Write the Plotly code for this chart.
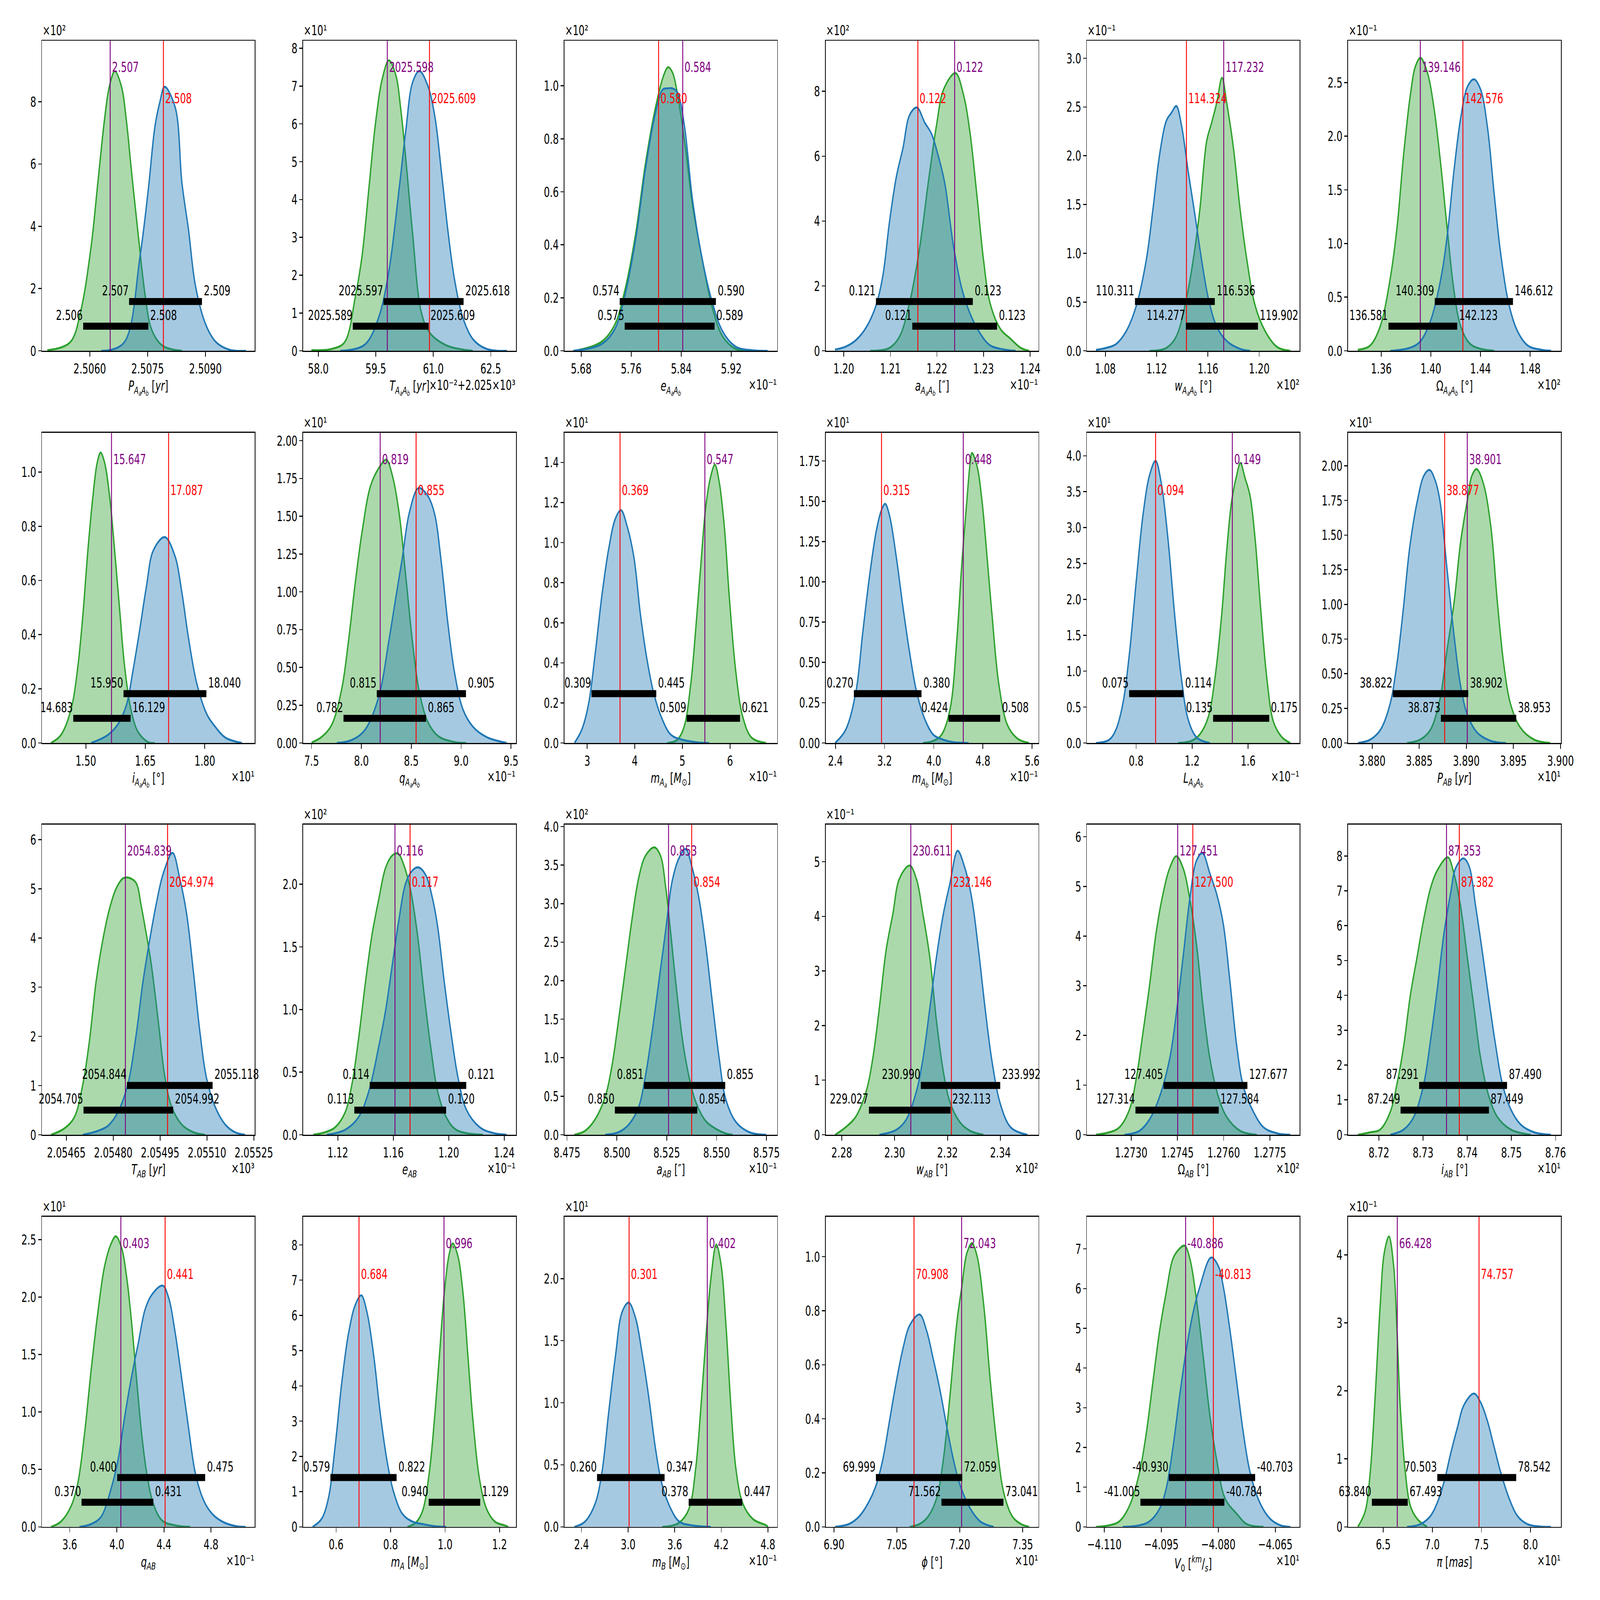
import plotly.graph_objects as go

FONT = "DejaVu Sans"
BLUE = "#1f77b4"
GREEN = "#2ca02c"
BLUE_FILL = "rgba(31,119,180,0.4)"
GREEN_FILL = "rgba(44,160,44,0.4)"
FIG_W, FIG_H = 7200, 4800

# ---- panel text -------------------------------------------------------
AAB = "<sub><i>A<sub>a</sub>A<sub>b</sub></i></sub>"
SUN = "[<i>M</i><sub>⊙</sub>]"
x_labels = [
    "<i>P</i>" + AAB + " [<i>yr</i>]", "<i>T</i>" + AAB + " [<i>yr</i>]",
    "<i>e</i>" + AAB, "<i>a</i>" + AAB + " [″]",
    "<i>w</i>" + AAB + " [°]", "Ω" + AAB + " [°]",
    "<i>i</i>" + AAB + " [°]", "<i>q</i>" + AAB,
    "<i>m</i><sub><i>A<sub>a</sub></i></sub> " + SUN,
    "<i>m</i><sub><i>A<sub>b</sub></i></sub> " + SUN,
    "<i>L</i>" + AAB, "<i>P</i><sub><i>AB</i></sub> [<i>yr</i>]",
    "<i>T</i><sub><i>AB</i></sub> [<i>yr</i>]", "<i>e</i><sub><i>AB</i></sub>",
    "<i>a</i><sub><i>AB</i></sub> [″]", "<i>w</i><sub><i>AB</i></sub> [°]",
    "Ω<sub><i>AB</i></sub> [°]", "<i>i</i><sub><i>AB</i></sub> [°]",
    "<i>q</i><sub><i>AB</i></sub>", "<i>m</i><sub><i>A</i></sub> " + SUN,
    "<i>m</i><sub><i>B</i></sub> " + SUN, "<i>ϕ</i> [°]",
    "<i>V</i><sub>0</sub> [<sup><i>km</i></sup>/<sub><i>s</i></sub>]",
    "<i>π</i> [<i>mas</i>]",
]

# axis multipliers: value = tick * 10**x_exp + x_offset
x_exp = [None, -2, -1, -1, 2, 2, 1, -1, -1, -1, -1, 1,
         3, -1, -1, 2, 2, 1, -1, None, -1, 1, 1, 1]
x_offset = [0, 2025, 0, 0, 0, 0, 0, 0, 0, 0, 0, 0,
            0, 0, 0, 0, 0, 0, 0, 0, 0, 0, 0, 0]
y_exp = [2, 1, 2, 2, -1, -1, None, 1, 1, 1, 1, 1,
         None, 2, 2, -1, None, None, 1, None, 1, None, None, -1]

# ---- ticks / ranges (tick units) --------------------------------------
x_range = [
    [2.50476, 2.51028], [57.605, 63.158], [5.6532, 5.9935], [1.1961, 1.2418],
    [1.0656, 1.2316], [1.3333, 1.5048], [1.3893, 1.926], [7.4157, 9.550],
    [2.521, 6.993], [2.241, 5.704], [0.4479, 1.969], [3.87745, 3.90005],
    [2.054572, 2.055253], [1.0950, 1.2485], [8.4737, 8.5804], [2.2739, 2.3544],
    [1.271565, 1.278467], [8.71303, 8.76121], [3.3637, 5.1715], [0.479, 1.2605],
    [2.1799, 4.9208], [6.880, 7.3877], [-4.11459, -4.05856], [6.142, 8.3104],
]
x_tick0 = [2.5060, 58.0, 5.68, 1.20, 1.08, 1.36, 1.50, 7.5, 3, 2.4, 0.8, 3.880,
           2.05465, 1.12, 8.475, 2.28, 1.2730, 8.72, 3.6, 0.6, 2.4, 6.90, -4.110, 6.5]
x_dtick = [0.0015, 1.5, 0.08, 0.01, 0.04, 0.04, 0.15, 0.5, 1, 0.8, 0.4, 0.005,
           0.00015, 0.04, 0.025, 0.02, 0.0015, 0.01, 0.4, 0.2, 0.6, 0.15, 0.015, 0.5]
x_fmt = [".4f", ".1f", ".2f", ".2f", ".2f", ".2f", ".2f", ".1f", ".0f", ".1f", ".1f", ".3f",
         ".5f", ".2f", ".3f", ".2f", ".4f", ".2f", ".1f", ".1f", ".1f", ".2f", ".3f", ".1f"]
y_top = [9.96, 8.2, 1.17, 9.56, 3.18, 2.89, 1.145, 2.052, 1.548, 1.925, 4.32, 2.238,
         6.305, 2.476, 4.026, 5.68, 6.245, 8.90, 2.70, 8.80, 2.499, 1.148, 7.81, 4.56]
y_dtick = [2, 1, 0.2, 2, 0.5, 0.5, 0.2, 0.25, 0.2, 0.25, 0.5, 0.25,
           1, 0.5, 0.5, 1, 1, 1, 0.5, 1, 0.5, 0.2, 1, 1]
y_fmt = [".0f", ".0f", ".1f", ".0f", ".1f", ".1f", ".1f", ".2f", ".1f", ".2f", ".1f", ".2f",
         ".0f", ".1f", ".1f", ".0f", ".0f", ".0f", ".1f", ".0f", ".1f", ".1f", ".0f", ".0f"]

# ---- summary values (real units) --------------------------------------
red_value = [2.50791, 2025.6090, 0.58038, 0.12159, 114.324, 142.576, 17.087, 0.8548,
             0.3690, 0.3150, 0.09389, 38.877, 2054.974, 0.11721, 0.85375, 232.146,
             127.500, 87.382, 0.4410, 0.6840, 0.3013, 70.908, -40.813, 74.757]
purple_value = [2.50653, 2025.5980, 0.58424, 0.12238, 117.232, 139.146, 15.647, 0.8188,
                0.5472, 0.4480, 0.14874, 38.901, 2054.839, 0.11612, 0.85259, 230.611,
                127.451, 87.353, 0.4034, 0.9960, 0.4020, 72.043, -40.886, 66.428]
blue_lo = [2.50702, 2025.5970, 0.57416, 0.12069, 110.311, 140.309, 15.950, 0.8154,
           0.3090, 0.2700, 0.07500, 38.822, 2054.844, 0.11430, 0.85136, 230.990,
           127.405, 87.291, 0.4003, 0.5790, 0.2600, 69.999, -40.930, 70.503]
blue_hi = [2.50891, 2025.6179, 0.58954, 0.12277, 116.536, 146.612, 18.040, 0.9048,
           0.4451, 0.3800, 0.11377, 38.902, 2055.118, 0.12126, 0.85543, 233.992,
           127.677, 87.490, 0.4750, 0.8220, 0.3470, 72.059, -40.703, 78.542]
green_lo = [2.50583, 2025.5890, 0.57496, 0.12147, 114.277, 136.581, 14.683, 0.7820,
            0.5090, 0.4240, 0.13500, 38.873, 2054.705, 0.11319, 0.84990, 229.027,
            127.314, 87.249, 0.3700, 0.9400, 0.3780, 71.562, -41.005, 63.840]
green_hi = [2.50752, 2025.6088, 0.58933, 0.12329, 119.902, 142.123, 16.129, 0.8648,
            0.6210, 0.5080, 0.17509, 38.953, 2054.992, 0.11981, 0.85403, 232.113,
            127.584, 87.449, 0.4310, 1.1290, 0.4470, 73.041, -40.784, 67.493]

# ---- density curves (tick units of each panel) -------------------------
blue_x = [
    [2.50630, 2.50691, 2.50730, 2.50752, 2.50769, 2.50782, 2.50794, 2.50822, 2.50839, 2.50856, 2.50874, 2.50900, 2.50926, 2.50961, 2.51005],
    [58.57, 59.23, 59.58, 59.84, 60.11, 60.28, 60.46, 60.64, 60.86, 61.04, 61.21, 61.39, 61.56, 61.78, 62.04, 62.39, 62.92],
    [5.667, 5.713, 5.734, 5.750, 5.767, 5.783, 5.799, 5.810, 5.818, 5.826, 5.834, 5.845, 5.858, 5.874, 5.890, 5.906, 5.927, 5.954, 5.978],
    [1.1981, 1.2004, 1.2026, 1.2048, 1.2069, 1.2084, 1.2098, 1.2113, 1.2127, 1.2141, 1.2157, 1.2174, 1.2188, 1.2203, 1.2217, 1.2235, 1.2253, 1.2271, 1.2293, 1.2314, 1.2344, 1.2369],
    [1.0727, 1.0805, 1.0884, 1.0962, 1.1041, 1.1119, 1.1171, 1.1224, 1.1276, 1.1315, 1.1354, 1.1394, 1.1446, 1.1498, 1.1551, 1.1603, 1.1668, 1.1747, 1.1851, 1.1929],
    [1.3673, 1.3835, 1.3916, 1.3997, 1.4078, 1.4132, 1.4186, 1.4240, 1.4294, 1.4348, 1.4402, 1.4456, 1.4510, 1.4564, 1.4631, 1.4699, 1.4780, 1.4888, 1.4969],
    [1.5135, 1.5558, 1.5812, 1.6023, 1.6192, 1.6361, 1.6530, 1.6699, 1.6994, 1.7248, 1.7417, 1.7586, 1.7797, 1.8051, 1.8262, 1.8516, 1.8939],
    [7.753, 7.904, 8.039, 8.175, 8.276, 8.344, 8.411, 8.479, 8.570, 8.665, 8.732, 8.800, 8.867, 8.935, 9.019, 9.120, 9.255, 9.457],
    [2.732, 2.887, 3.028, 3.169, 3.310, 3.451, 3.592, 3.711, 3.838, 3.979, 4.120, 4.261, 4.401, 4.577, 4.754, 5.0, 5.28, 5.56],
    [2.395, 2.570, 2.734, 2.843, 2.953, 3.062, 3.144, 3.210, 3.281, 3.390, 3.500, 3.609, 3.719, 3.855, 3.992, 4.156, 4.320, 4.566],
    [0.5126, 0.6084, 0.6563, 0.7042, 0.7521, 0.8000, 0.8479, 0.8958, 0.9389, 0.9796, 1.0275, 1.0754, 1.1234, 1.1713, 1.2311, 1.327],
    [3.8785, 3.8798, 3.8809, 3.8819, 3.8826, 3.8833, 3.8840, 3.8848, 3.8855, 3.8861, 3.8867, 3.8872, 3.8879, 3.8887, 3.8894, 3.8901, 3.8911, 3.8926, 3.8942],
    [2.054703, 2.054751, 2.054783, 2.054815, 2.054847, 2.054874, 2.054895, 2.054917, 2.054938, 2.054960, 2.054990, 2.055013, 2.055035, 2.055056, 2.055078, 2.055099, 2.055126, 2.055158, 2.055190, 2.055222],
    [1.1120, 1.1253, 1.1350, 1.1423, 1.1496, 1.1544, 1.1593, 1.1641, 1.1690, 1.1738, 1.1782, 1.1835, 1.1883, 1.1920, 1.1968, 1.2017, 1.2065, 1.2126, 1.2223, 1.2320, 1.2417],
    [8.4941, 8.5008, 8.5059, 8.5109, 8.5143, 8.5176, 8.5210, 8.5244, 8.5277, 8.5311, 8.5345, 8.5378, 8.5412, 8.5445, 8.5479, 8.5513, 8.5546, 8.5597, 8.5664, 8.5748],
    [2.2942, 2.3006, 2.3044, 2.3082, 2.3107, 2.3133, 2.3158, 2.3184, 2.3209, 2.3238, 2.3266, 2.3292, 2.3317, 2.3342, 2.3368, 2.3400, 2.3438, 2.3502],
    [1.272783, 1.273272, 1.273598, 1.273924, 1.274250, 1.274467, 1.274685, 1.274902, 1.275120, 1.275315, 1.275554, 1.275772, 1.275989, 1.276207, 1.276424, 1.276641, 1.276967, 1.277293, 1.277728, 1.278163],
    [8.72258, 8.72561, 8.72788, 8.73015, 8.73167, 8.73318, 8.73470, 8.73621, 8.73735, 8.73909, 8.74038, 8.74189, 8.74341, 8.74492, 8.74644, 8.74795, 8.74985, 8.75212, 8.75515, 8.75894],
    [3.6826, 3.7822, 3.8676, 3.9530, 4.0114, 4.0683, 4.1253, 4.1822, 4.2391, 4.2961, 4.3900, 4.4384, 4.4954, 4.5523, 4.6093, 4.6662, 4.7374, 4.8085, 4.8940, 5.0078, 5.0932],
    [0.5136, 0.5469, 0.5716, 0.5963, 0.6210, 0.6457, 0.6704, 0.6926, 0.7136, 0.7383, 0.7630, 0.7877, 0.8123, 0.8432, 0.8802, 0.9173, 0.9605, 1.0037],
    [2.3094, 2.4475, 2.5770, 2.6633, 2.7496, 2.8360, 2.9223, 3.0086, 3.0950, 3.1813, 3.2676, 3.3540, 3.4403, 3.5482, 3.6561, 3.8288, 4.0662],
    [6.9024, 6.9361, 6.9602, 6.9842, 7.0003, 7.0163, 7.0324, 7.0484, 7.0644, 7.0805, 7.1045, 7.1206, 7.1366, 7.1527, 7.1687, 7.1848, 7.2008, 7.2249, 7.2489, 7.2810],
    [-4.10515, -4.10074, -4.09809, -4.09544, -4.09368, -4.09191, -4.09015, -4.08838, -4.08662, -4.08485, -4.08194, -4.08000, -4.07868, -4.07691, -4.07515, -4.07338, -4.07162, -4.06897, -4.06632, -4.06368, -4.06103],
    [6.7421, 6.8784, 6.9807, 7.0489, 7.1171, 7.1853, 7.2535, 7.3217, 7.4240, 7.4922, 7.5604, 7.6286, 7.6968, 7.7820, 7.8673, 7.9696, 8.2083],
]
blue_y = [
    [0, 0.3, 3.0, 5.2, 7.2, 8.0, 8.48, 7.8, 5.4, 3.9, 2.1, 0.87, 0.3, 0.04, 0],
    [0, 0.18, 0.9, 2.1, 4.3, 5.8, 7.1, 7.4, 7.0, 6.2, 4.75, 3.1, 1.85, 0.85, 0.3, 0.05, 0],
    [0, 0.026, 0.083, 0.21, 0.42, 0.69, 0.90, 0.985, 0.99, 0.99, 0.975, 0.85, 0.57, 0.34, 0.18, 0.074, 0.016, 0.002, 0],
    [0.04, 0.13, 0.33, 0.72, 1.39, 2.33, 3.97, 5.38, 6.25, 7.26, 7.5, 7.03, 6.7, 6.0, 5.15, 3.27, 1.94, 1.15, 0.53, 0.17, 0.04, 0],
    [0.01, 0.03, 0.07, 0.2, 0.46, 0.93, 1.45, 2.02, 2.36, 2.44, 2.51, 2.31, 1.84, 1.40, 0.93, 0.54, 0.25, 0.10, 0.02, 0],
    [0, 0.03, 0.09, 0.28, 0.66, 1.08, 1.68, 2.17, 2.46, 2.53, 2.43, 2.08, 1.46, 0.89, 0.42, 0.18, 0.05, 0.01, 0],
    [0, 0.03, 0.07, 0.14, 0.27, 0.42, 0.58, 0.71, 0.76, 0.69, 0.56, 0.39, 0.22, 0.106, 0.06, 0.02, 0],
    [0, 0.02, 0.09, 0.31, 0.68, 0.96, 1.23, 1.52, 1.686, 1.635, 1.52, 1.20, 0.79, 0.46, 0.22, 0.106, 0.039, 0],
    [0, 0.067, 0.194, 0.448, 0.739, 0.968, 1.12, 1.162, 1.082, 0.93, 0.638, 0.41, 0.245, 0.118, 0.042, 0.016, 0.004, 0],
    [0, 0.084, 0.32, 0.68, 1.03, 1.31, 1.44, 1.484, 1.41, 1.155, 0.84, 0.557, 0.32, 0.147, 0.052, 0.02, 0.005, 0],
    [0, 0.046, 0.19, 0.54, 1.25, 2.24, 3.16, 3.73, 3.93, 3.62, 2.84, 1.78, 0.90, 0.33, 0.08, 0],
    [0, 0.024, 0.097, 0.28, 0.555, 0.96, 1.417, 1.747, 1.93, 1.97, 1.894, 1.747, 1.289, 0.775, 0.409, 0.207, 0.079, 0.015, 0],
    [0, 0.08, 0.18, 0.46, 1.03, 2.06, 3.10, 3.97, 4.70, 5.31, 5.73, 5.21, 4.49, 3.35, 2.06, 1.14, 0.57, 0.21, 0.05, 0],
    [0, 0.04, 0.142, 0.345, 0.71, 0.99, 1.36, 1.72, 2.01, 2.11, 2.134, 2.07, 1.885, 1.66, 1.216, 0.81, 0.466, 0.203, 0.06, 0.014, 0],
    [0, 0.033, 0.13, 0.36, 0.76, 1.32, 1.98, 2.64, 3.29, 3.59, 3.71, 3.46, 3.06, 2.47, 1.71, 0.99, 0.46, 0.165, 0.033, 0],
    [0, 0.09, 0.28, 0.79, 1.39, 2.32, 3.25, 4.04, 4.60, 5.20, 4.88, 4.32, 3.39, 2.32, 1.35, 0.56, 0.14, 0],
    [0, 0.08, 0.31, 0.77, 1.53, 2.45, 3.58, 4.75, 5.52, 5.67, 5.26, 4.85, 4.24, 3.07, 1.79, 0.97, 0.46, 0.15, 0.03, 0],
    [0, 0.15, 0.51, 1.46, 2.70, 4.15, 5.76, 6.92, 7.65, 7.93, 7.72, 6.56, 5.25, 3.86, 2.55, 1.46, 0.73, 0.29, 0.07, 0],
    [0, 0.025, 0.09, 0.34, 0.59, 0.97, 1.31, 1.60, 1.89, 2.02, 2.10, 2.00, 1.69, 1.28, 0.86, 0.47, 0.23, 0.115, 0.047, 0.007, 0],
    [0, 0.23, 0.81, 2.28, 4.11, 5.50, 6.30, 6.57, 6.08, 4.84, 3.16, 1.84, 0.96, 0.37, 0.15, 0.08, 0.02, 0],
    [0, 0.044, 0.19, 0.44, 0.92, 1.37, 1.73, 1.807, 1.686, 1.395, 1.04, 0.626, 0.335, 0.148, 0.044, 0.012, 0],
    [0, 0.011, 0.039, 0.096, 0.154, 0.249, 0.393, 0.536, 0.66, 0.746, 0.786, 0.727, 0.622, 0.507, 0.373, 0.249, 0.154, 0.068, 0.02, 0],
    [0, 0.04, 0.14, 0.46, 0.98, 2.02, 3.32, 4.49, 5.40, 6.05, 6.78, 6.57, 6.05, 4.94, 3.65, 2.35, 1.37, 0.59, 0.20, 0.04, 0],
    [0, 0.04, 0.16, 0.35, 0.65, 1.07, 1.45, 1.79, 1.96, 1.83, 1.56, 1.18, 0.80, 0.42, 0.16, 0.04, 0],
]
green_x = [
    [2.50490, 2.50551, 2.50577, 2.50603, 2.50621, 2.50638, 2.50651, 2.50665, 2.50682, 2.50695, 2.50708, 2.50726, 2.50743, 2.50760, 2.50787, 2.50839],
    [57.82, 58.35, 58.70, 58.96, 59.14, 59.32, 59.49, 59.67, 59.84, 60.02, 60.15, 60.28, 60.46, 60.68, 60.89, 61.33, 62.03],
    [5.669, 5.713, 5.734, 5.750, 5.767, 5.783, 5.799, 5.812, 5.819, 5.826, 5.836, 5.847, 5.858, 5.874, 5.890, 5.906, 5.927, 5.949],
    [1.2057, 1.2098, 1.2120, 1.2141, 1.2163, 1.2181, 1.2199, 1.2214, 1.2240, 1.2257, 1.2271, 1.2286, 1.2300, 1.2314, 1.2336, 1.2358, 1.2380, 1.2398],
    [1.1145, 1.1276, 1.1354, 1.1433, 1.1485, 1.1537, 1.1590, 1.1629, 1.1668, 1.1710, 1.1747, 1.1799, 1.1851, 1.1904, 1.1969, 1.2047, 1.2139, 1.2243],
    [1.3411, 1.3511, 1.3592, 1.3673, 1.3727, 1.3781, 1.3835, 1.3875, 1.3916, 1.3970, 1.4024, 1.4078, 1.4132, 1.4186, 1.4240, 1.4321, 1.4510],
    [1.4121, 1.4375, 1.4628, 1.4797, 1.4924, 1.5051, 1.5178, 1.5287, 1.5372, 1.5473, 1.5600, 1.5727, 1.5854, 1.5980, 1.6150, 1.6319, 1.6572, 1.674],
    [7.50, 7.601, 7.702, 7.803, 7.871, 7.938, 8.007, 8.091, 8.175, 8.250, 8.310, 8.378, 8.445, 8.513, 8.580, 8.665, 8.766, 8.918, 9.05],
    [4.683, 4.894, 5.035, 5.176, 5.282, 5.387, 5.493, 5.599, 5.683, 5.775, 5.880, 5.986, 6.127, 6.268, 6.444, 6.761],
    [3.825, 3.992, 4.129, 4.265, 4.374, 4.456, 4.538, 4.593, 4.621, 4.703, 4.785, 4.867, 4.949, 5.058, 5.195, 5.359, 5.550],
    [1.0994, 1.1952, 1.2551, 1.3150, 1.3629, 1.4108, 1.4467, 1.4826, 1.5186, 1.5449, 1.5784, 1.6144, 1.6503, 1.6862, 1.7341, 1.7820, 1.8419, 1.9018],
    [3.8837, 3.8851, 3.8862, 3.8872, 3.8879, 3.8887, 3.8894, 3.8901, 3.8906, 3.8911, 3.8918, 3.8926, 3.8933, 3.8940, 3.8947, 3.8957, 3.8972, 3.8989],
    [2.054601, 2.054644, 2.054676, 2.054703, 2.054724, 2.054745, 2.054767, 2.054788, 2.054809, 2.054831, 2.054852, 2.054874, 2.054890, 2.054906, 2.054922, 2.054944, 2.054965, 2.054987, 2.055019, 2.055057, 2.055094],
    [1.1023, 1.1108, 1.1181, 1.1253, 1.1302, 1.1350, 1.1399, 1.1447, 1.1496, 1.1544, 1.1593, 1.1636, 1.1677, 1.1726, 1.1774, 1.1823, 1.1871, 1.1920, 1.1981, 1.2053, 1.2247],
    [8.4787, 8.4840, 8.4891, 8.4941, 8.4975, 8.5008, 8.5042, 8.5076, 8.5109, 8.5143, 8.5188, 8.5219, 8.5244, 8.5269, 8.5294, 8.5328, 8.5361, 8.5395, 8.5445, 8.5504, 8.5546, 8.558],
    [2.2775, 2.2815, 2.2853, 2.2892, 2.2917, 2.2942, 2.2968, 2.2993, 2.3018, 2.3057, 2.3082, 2.3107, 2.3133, 2.3158, 2.3184, 2.3209, 2.3247, 2.3286, 2.3336],
    [1.271859, 1.272293, 1.272620, 1.272946, 1.273163, 1.273380, 1.273598, 1.273815, 1.274033, 1.274250, 1.274467, 1.274685, 1.274902, 1.275120, 1.275337, 1.275554, 1.275826, 1.276098, 1.276533, 1.277076],
    [8.71523, 8.71803, 8.72030, 8.72258, 8.72409, 8.72561, 8.72712, 8.72864, 8.73015, 8.73167, 8.73318, 8.73561, 8.73697, 8.73848, 8.74000, 8.74152, 8.74303, 8.74492, 8.74682, 8.74985, 8.75439],
    [3.4406, 3.5260, 3.6114, 3.6683, 3.7253, 3.7822, 3.8391, 3.8961, 3.9530, 3.9915, 4.0399, 4.0826, 4.1253, 4.1680, 4.2107, 4.2534, 4.3103, 4.3815, 4.4954, 4.6235],
    [0.8617, 0.8926, 0.9173, 0.9420, 0.9605, 0.9790, 0.9975, 1.0160, 1.0284, 1.0469, 1.0654, 1.0840, 1.1025, 1.1272, 1.1519, 1.1827, 1.2198, 1.2321],
    [3.4403, 3.6561, 3.7856, 3.8719, 3.9367, 4.0014, 4.0662, 4.1353, 4.1957, 4.2604, 4.3252, 4.3899, 4.4763, 4.6058, 4.7784, 4.80],
    [7.0805, 7.1045, 7.1246, 7.1447, 7.1607, 7.1767, 7.1928, 7.2048, 7.2168, 7.2289, 7.2409, 7.2570, 7.2730, 7.2890, 7.3051, 7.3251, 7.3452, 7.3653],
    [-4.11221, -4.10868, -4.10603, -4.10338, -4.10074, -4.09897, -4.09721, -4.09544, -4.09368, -4.09191, -4.09015, -4.08882, -4.08750, -4.08574, -4.08397, -4.08221, -4.08044, -4.07824, -4.07515, -4.07250, -4.06809],
    [6.2409, 6.3159, 6.3670, 6.4182, 6.4693, 6.5102, 6.5580, 6.6057, 6.6398, 6.6739, 6.7250, 6.7761, 6.8443, 6.9466],
]
green_y = [
    [0.02, 0.3, 1.3, 3.3, 5.4, 7.4, 8.5, 8.98, 8.5, 7.4, 5.8, 3.7, 1.85, 0.7, 0.18, 0],
    [0.02, 0.05, 0.25, 1.4, 2.5, 4.3, 6.0, 7.2, 7.68, 7.3, 6.4, 5.1, 3.1, 1.05, 0.5, 0.15, 0],
    [0, 0.035, 0.10, 0.23, 0.44, 0.71, 0.92, 1.04, 1.07, 1.05, 0.94, 0.76, 0.55, 0.34, 0.16, 0.055, 0.007, 0],
    [0, 0.09, 0.45, 1.47, 3.19, 5.15, 6.95, 8.05, 8.56, 7.89, 6.72, 4.76, 2.8, 1.47, 0.68, 0.37, 0.09, 0],
    [0, 0.03, 0.15, 0.54, 0.93, 1.45, 2.15, 2.34, 2.54, 2.80, 2.54, 2.08, 1.45, 0.93, 0.46, 0.20, 0.04, 0],
    [0.01, 0.05, 0.23, 0.68, 1.15, 1.84, 2.39, 2.65, 2.73, 2.60, 2.27, 1.75, 1.13, 0.56, 0.23, 0.06, 0],
    [0, 0.03, 0.125, 0.28, 0.47, 0.71, 0.91, 1.035, 1.072, 1.035, 0.91, 0.71, 0.49, 0.28, 0.115, 0.04, 0.003, 0],
    [0.003, 0.04, 0.12, 0.36, 0.68, 1.06, 1.40, 1.70, 1.82, 1.874, 1.77, 1.52, 1.10, 0.66, 0.34, 0.14, 0.047, 0.008, 0],
    [0, 0.016, 0.08, 0.295, 0.574, 0.89, 1.183, 1.335, 1.389, 1.30, 1.082, 0.727, 0.346, 0.131, 0.029, 0],
    [0, 0.013, 0.052, 0.21, 0.635, 1.108, 1.502, 1.74, 1.80, 1.72, 1.502, 1.155, 0.79, 0.367, 0.115, 0.028, 0],
    [0, 0.03, 0.12, 0.36, 0.90, 1.78, 2.67, 3.37, 3.73, 3.90, 3.69, 3.44, 2.84, 1.96, 0.90, 0.29, 0.08, 0],
    [0, 0.024, 0.097, 0.317, 0.647, 1.014, 1.454, 1.747, 1.93, 1.976, 1.875, 1.564, 1.014, 0.555, 0.28, 0.115, 0.024, 0],
    [0, 0.13, 0.36, 1.03, 1.91, 3.10, 3.97, 4.59, 5.0, 5.21, 5.22, 5.11, 4.64, 4.08, 3.46, 2.32, 1.19, 0.57, 0.21, 0.05, 0],
    [0, 0.02, 0.06, 0.18, 0.405, 0.77, 1.216, 1.60, 1.885, 2.13, 2.23, 2.243, 2.15, 1.945, 1.60, 1.115, 0.69, 0.345, 0.142, 0.04, 0],
    [0, 0.05, 0.2, 0.49, 0.89, 1.48, 2.14, 2.80, 3.33, 3.62, 3.73, 3.62, 3.23, 2.64, 2.01, 1.25, 0.76, 0.43, 0.18, 0.066, 0.016, 0],
    [0, 0.14, 0.33, 0.79, 1.39, 2.32, 3.39, 4.04, 4.69, 4.93, 4.69, 4.04, 3.25, 2.09, 1.16, 0.60, 0.23, 0.07, 0],
    [0, 0.05, 0.15, 0.51, 1.12, 2.04, 3.01, 4.09, 4.85, 5.37, 5.61, 5.37, 4.75, 3.83, 2.55, 1.53, 0.77, 0.36, 0.08, 0],
    [0, 0.07, 0.15, 0.66, 1.46, 2.55, 4.01, 5.10, 6.19, 7.07, 7.58, 7.96, 7.50, 6.56, 5.10, 3.64, 2.19, 1.09, 0.51, 0.15, 0],
    [0, 0.047, 0.18, 0.38, 0.81, 1.37, 1.87, 2.27, 2.47, 2.53, 2.43, 2.18, 1.78, 1.28, 0.81, 0.47, 0.20, 0.058, 0.013, 0],
    [0, 0.12, 0.45, 1.54, 3.01, 4.84, 6.67, 7.77, 8.04, 7.69, 6.67, 4.84, 3.01, 1.32, 0.52, 0.15, 0.04, 0],
    [0, 0.033, 0.148, 0.48, 0.958, 1.52, 2.0, 2.275, 2.12, 1.624, 0.958, 0.46, 0.19, 0.064, 0.012, 0],
    [0, 0.011, 0.039, 0.106, 0.249, 0.488, 0.755, 0.889, 1.013, 1.05, 1.004, 0.822, 0.536, 0.297, 0.125, 0.039, 0.011, 0],
    [0, 0.04, 0.14, 0.53, 1.37, 2.35, 3.65, 4.94, 5.92, 6.76, 7.01, 7.08, 6.76, 5.72, 4.29, 2.80, 1.70, 0.72, 0.33, 0.07, 0],
    [0, 0.23, 0.80, 1.94, 3.27, 4.03, 4.27, 3.84, 2.89, 1.75, 0.80, 0.31, 0.12, 0],
]

# ---- layout of the 4 x 6 grid (paper fractions) ----------------------
LEFT, WIDTH, PITCH = 0.0199, 0.1355, 0.1663
ROW_TOP = [0.97813, 0.73083, 0.48375, 0.23646]
HEIGHT = 0.1956

SUPER = str.maketrans("-0123456789", "⁻⁰¹²³⁴⁵⁶⁷⁸⁹")

def exp_text(e):
    return "×10" + str(e).translate(SUPER)

fig = go.Figure()
annotations = []
axes = {}
tfont = dict(family=FONT, size=42, color="black")

for i in range(24):
    n = i + 1
    s = "" if n == 1 else str(n)
    xr, yr = "x" + s, "y" + s
    row, col = divmod(i, 6)
    mult = 10.0 ** (x_exp[i] or 0)

    def disp(v):
        return (v - x_offset[i]) / mult

    top = y_top[i]
    fig.add_trace(go.Scatter(x=green_x[i], y=green_y[i], mode="lines", fill="tozeroy",
                             fillcolor=GREEN_FILL, line=dict(color=GREEN, width=6, shape="spline"),
                             xaxis=xr, yaxis=yr, hoverinfo="skip"))
    fig.add_trace(go.Scatter(x=blue_x[i], y=blue_y[i], mode="lines", fill="tozeroy",
                             fillcolor=BLUE_FILL, line=dict(color=BLUE, width=6, shape="spline"),
                             xaxis=xr, yaxis=yr, hoverinfo="skip"))
    for v, colr in ((red_value[i], "red"), (purple_value[i], "purple")):
        fig.add_trace(go.Scatter(x=[disp(v), disp(v)], y=[0, top], mode="lines",
                                 line=dict(color=colr, width=4), xaxis=xr, yaxis=yr,
                                 hoverinfo="skip"))
    # interval bars
    for lo, hi, frac in ((blue_lo[i], blue_hi[i], 0.159), (green_lo[i], green_hi[i], 0.0795)):
        fig.add_trace(go.Scatter(x=[disp(lo), disp(hi)], y=[frac * top, frac * top], mode="lines",
                                 line=dict(color="black", width=21), xaxis=xr, yaxis=yr,
                                 hoverinfo="skip"))
        annotations.append(dict(x=disp(lo), y=frac + 0.036, xref=xr, yref=yr + " domain",
                                text=f"{lo:.3f}", showarrow=False, xanchor="right",
                                yanchor="middle", font=tfont))
        annotations.append(dict(x=disp(hi), y=frac + 0.036, xref=xr, yref=yr + " domain",
                                text=f"{hi:.3f}", showarrow=False, xanchor="left", xshift=6,
                                yanchor="middle", font=tfont))
    annotations.append(dict(x=disp(purple_value[i]), y=0.915, xref=xr, yref=yr + " domain",
                            text=f"{purple_value[i]:.3f}", showarrow=False, xanchor="left",
                            xshift=6, yanchor="middle", font=dict(family=FONT, size=42, color="purple")))
    annotations.append(dict(x=disp(red_value[i]), y=0.815, xref=xr, yref=yr + " domain",
                            text=f"{red_value[i]:.3f}", showarrow=False, xanchor="left",
                            xshift=6, yanchor="middle", font=dict(family=FONT, size=42, color="red")))
    # axis label and offset texts
    annotations.append(dict(x=0.5, y=0, xref=xr + " domain", yref=yr + " domain",
                            text=x_labels[i], showarrow=False, xanchor="center",
                            yanchor="top", yshift=-78, font=tfont))
    if x_offset[i]:
        annotations.append(dict(x=1, y=0, xref=xr + " domain", yref=yr + " domain",
                                text=exp_text(x_exp[i]) + "+2.025×10³",
                                showarrow=False, xanchor="right", yanchor="top", yshift=-76,
                                font=tfont))
    elif x_exp[i] is not None:
        annotations.append(dict(x=1, y=0, xref=xr + " domain", yref=yr + " domain",
                                text=exp_text(x_exp[i]), showarrow=False, xanchor="right",
                                yanchor="top", yshift=-74, font=tfont))
    if y_exp[i] is not None:
        annotations.append(dict(x=0, y=1, xref=xr + " domain", yref=yr + " domain",
                                text=exp_text(y_exp[i]), showarrow=False, xanchor="left",
                                yanchor="bottom", yshift=4, font=tfont))

    common = dict(showline=True, linewidth=3.3, linecolor="black", mirror=True,
                  ticks="outside", ticklen=14, tickwidth=3.3, tickcolor="black",
                  showgrid=False, zeroline=False, tickfont=tfont, tickangle=0)
    x0 = LEFT + col * PITCH
    axes["xaxis" + s] = dict(domain=[x0, x0 + WIDTH], range=x_range[i], anchor=yr,
                             tickmode="linear", tick0=x_tick0[i], dtick=x_dtick[i],
                             tickformat=x_fmt[i], **common)
    axes["yaxis" + s] = dict(domain=[ROW_TOP[row] - HEIGHT, ROW_TOP[row]], range=[0, top],
                             anchor=xr, tickmode="linear", tick0=0, dtick=y_dtick[i],
                             tickformat=y_fmt[i], **common)

fig.update_layout(width=FIG_W, height=FIG_H, margin=dict(l=0, r=0, t=0, b=0),
                  paper_bgcolor="white", plot_bgcolor="white", showlegend=False,
                  annotations=annotations, font=tfont, **axes)

# the figure is laid out at 7200x4800; stretch it onto whatever window shows it
fit_js = """
var gd = document.getElementById('{plot_id}');
document.documentElement.style.margin = '0';
document.documentElement.style.overflow = 'hidden';
document.body.style.margin = '0';
document.body.style.overflow = 'hidden';
var sx = window.innerWidth / %d, sy = window.innerHeight / %d;
gd.style.transformOrigin = '0 0';
gd.style.transform = 'scale(' + sx + ',' + sy + ')';
""" % (FIG_W, FIG_H)

fig.write_html("out.html", post_script=fit_js, config={"displayModeBar": False})
